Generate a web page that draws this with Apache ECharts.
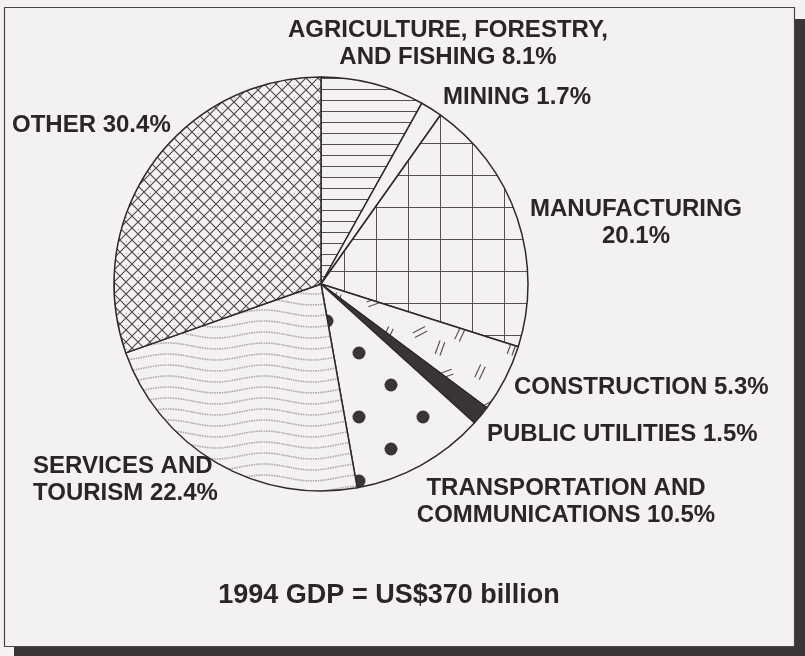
<!DOCTYPE html>
<html>
<head>
<meta charset="utf-8">
<script src="https://cdn.jsdelivr.net/npm/echarts@6/dist/echarts.min.js"></script>
<style>
  html, body { margin: 0; padding: 0; background: #f3f1f1; }
  #chart { width: 805px; height: 656px; }
</style>
</head>
<body>
<div id="chart"></div>
<script>
'use strict';

// sectors of 1994 GDP, percent
var sectors = [
  'AGRICULTURE, FORESTRY,\nAND FISHING',
  'MINING',
  'MANUFACTURING\n',
  'CONSTRUCTION',
  'PUBLIC UTILITIES',
  'TRANSPORTATION AND\nCOMMUNICATIONS',
  'SERVICES AND\nTOURISM',
  'OTHER'
];
var shares = [8.1, 1.7, 20.1, 5.3, 1.5, 10.5, 22.4, 30.4];
var fills = ['hlines', 'blank', 'grid', 'dashes', 'solid', 'dots', 'waves', 'cross'];
var titleText = '1994 GDP = US$370 billion';

var INK = '#2e2a2a';
var BG = '#f3f1f1';

// make a small canvas tile for a pattern fill
function tile(w, h, draw) {
  var c = document.createElement('canvas');
  c.width = w; c.height = h;
  var ctx = c.getContext('2d');
  ctx.fillStyle = BG;
  ctx.fillRect(0, 0, w, h);
  draw(ctx, w, h);
  return { image: c, repeat: 'repeat' };
}

function makeFill(kind) {
  if (kind === 'blank') return BG;
  if (kind === 'solid') return '#3a3535';
  if (kind === 'hlines') {
    return tile(11, 11, function(ctx, w) {
      ctx.fillStyle = '#555050';
      ctx.fillRect(0, 1, w, 1);
    });
  }
  if (kind === 'grid') {
    return tile(32, 32, function(ctx, w, h) {
      ctx.fillStyle = '#555050';
      ctx.fillRect(24, 0, 1, h);
      ctx.fillRect(0, 15, w, 1);
    });
  }
  if (kind === 'cross') {
    return tile(12, 12, function(ctx, w, h) {
      ctx.strokeStyle = '#4a4545';
      ctx.lineWidth = 1.1;
      ctx.beginPath();
      ctx.moveTo(-1, -1); ctx.lineTo(w + 1, h + 1);
      ctx.moveTo(w + 1, -1); ctx.lineTo(-1, h + 1);
      ctx.stroke();
      ctx.fillStyle = '#8a8585';
      ctx.fillRect(6, 1, 1, 1);
    });
  }
  if (kind === 'dots') {
    return tile(64, 64, function(ctx) {
      ctx.fillStyle = '#3a3535';
      var pts = [[39, 33], [7, 1]];
      pts.forEach(function(p) {
        for (var dx = -64; dx <= 64; dx += 64) {
          for (var dy = -64; dy <= 64; dy += 64) {
            ctx.beginPath();
            ctx.arc(p[0] + dx, p[1] + dy, 6.5, 0, Math.PI * 2);
            ctx.fill();
          }
        }
      });
    });
  }
  if (kind === 'waves') {
    return tile(96, 11, function(ctx, w) {
      ctx.strokeStyle = '#aaa5a5';
      ctx.lineWidth = 1.6;
      ctx.setLineDash([1.5, 1]);
      for (var k = -1; k <= 1; k++) {
        ctx.beginPath();
        for (var x = 0; x <= w; x++) {
          var y = 5 + k * 11 + 3 * Math.sin(2 * Math.PI * x / w);
          if (x === 0) ctx.moveTo(x, y); else ctx.lineTo(x, y);
        }
        ctx.stroke();
      }
    });
  }
  if (kind === 'dashes') {
    // pairs of short parallel strokes at a few angles
    return tile(72, 72, function(ctx) {
      ctx.strokeStyle = '#5a5555';
      ctx.lineWidth = 1.2;
      var marks = [[14, 14, -20], [48, 12, -65], [28, 46, -65], [60, 44, -28], [8, 60, -70]];
      marks.forEach(function(m) {
        var a = m[2] * Math.PI / 180;
        var ux = Math.cos(a), uy = Math.sin(a);
        var nx = -uy, ny = ux;
        [-2.5, 2.5].forEach(function(off) {
          ctx.beginPath();
          ctx.moveTo(m[0] - ux * 7 + nx * off, m[1] - uy * 7 + ny * off);
          ctx.lineTo(m[0] + ux * 7 + nx * off, m[1] + uy * 7 + ny * off);
          ctx.stroke();
        });
      });
    });
  }
  return BG;
}

// where each label block sits (text anchor, not marks)
var labelSpots = [
  { x: 448, y: 44, align: 'center' },
  { x: 443, y: 97, align: 'left' },
  { x: 636, y: 223, align: 'center' },
  { x: 514, y: 387, align: 'left' },
  { x: 487, y: 434, align: 'left' },
  { x: 566, y: 502, align: 'center' },
  { x: 33, y: 480, align: 'left' },
  { x: 12, y: 125, align: 'left' }
];

var pieData = sectors.map(function(name, i) {
  return {
    name: name,
    value: shares[i],
    itemStyle: { color: makeFill(fills[i]) }
  };
});

var chart = echarts.init(document.getElementById('chart'), null, { renderer: 'canvas' });

var option = {
  backgroundColor: BG,
  animation: false,
  graphic: [
    { type: 'rect', silent: true, z: -10, shape: { x: 14, y: 19, width: 791, height: 637 }, style: { fill: '#3b3636' } },
    { type: 'rect', silent: true, z: -9, shape: { x: 4.5, y: 7.5, width: 790, height: 639 }, style: { fill: BG, stroke: '#4a4545', lineWidth: 1.2 } }
  ],
  title: {
    text: titleText,
    left: 384,
    top: 577,
    textAlign: 'center',
    textStyle: { fontFamily: 'Liberation Sans, Arial, sans-serif', fontWeight: 'bold', fontSize: 27, color: '#2a2626' }
  },
  series: [{
    type: 'pie',
    center: [321, 284],
    radius: [0, 207],
    startAngle: 90,
    clockwise: true,
    avoidLabelOverlap: false,
    itemStyle: { borderColor: INK, borderWidth: 1.5 },
    emphasis: { disabled: true },
    label: {
      show: true,
      position: 'outside',
      formatter: function(p) {
        return p.name + (p.name.slice(-1) === '\n' ? '' : ' ') + p.value.toFixed(1) + '%';
      },
      fontFamily: 'Liberation Sans, Arial, sans-serif',
      fontWeight: 'bold',
      fontSize: 24,
      lineHeight: 27,
      color: '#2a2626'
    },
    labelLine: { show: false },
    labelLayout: function(params) {
      var s = labelSpots[params.dataIndex];
      return { x: s.x, y: s.y, align: s.align, verticalAlign: 'middle', hideOverlap: false };
    },
    data: pieData
  }]
};

chart.setOption(option);
</script>
</body>
</html>
